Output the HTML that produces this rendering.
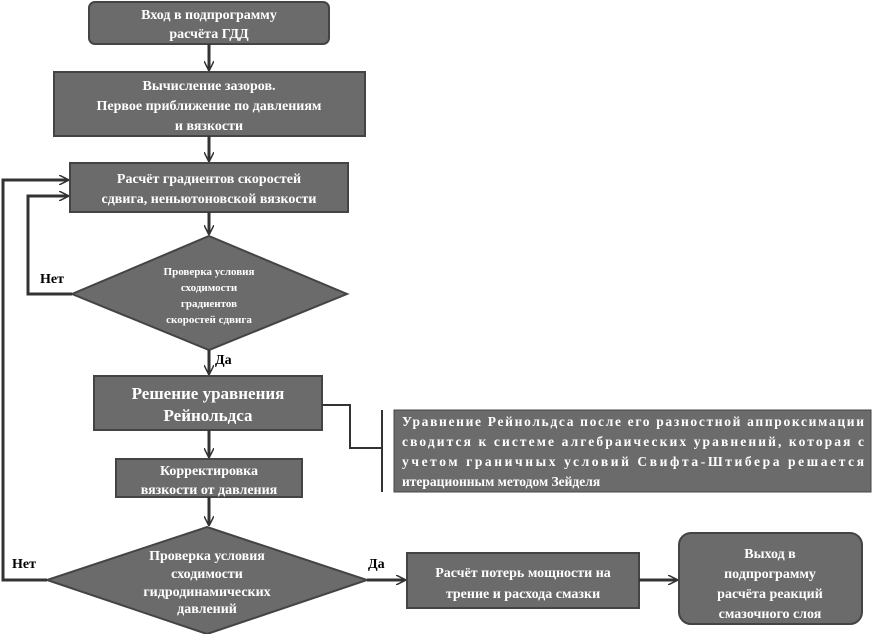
<!DOCTYPE html>
<html><head><meta charset="utf-8"><style>
body{margin:0;background:#fff;}
svg text{font-family:"Liberation Serif",serif;font-weight:bold;fill:#fff;}
</style></head><body>
<svg width="872" height="634" viewBox="0 0 872 634" xmlns="http://www.w3.org/2000/svg">
<defs><marker id="a" markerWidth="10" markerHeight="10" refX="9" refY="5" orient="auto" markerUnits="userSpaceOnUse"><path d="M0,0 L10,5 L0,10" fill="none" stroke="#333" stroke-width="1.5"/></marker></defs>
<g fill="#6b6b6b" stroke="#444" stroke-width="2">
<rect x="89" y="2" width="240" height="42" rx="6"/>
<rect x="54" y="72" width="311" height="64"/>
<rect x="70" y="163" width="278" height="49"/>
<polygon points="209,236 347,294 209,350 72,294"/>
<rect x="94" y="376" width="228" height="54"/>
<rect x="394" y="410" width="477" height="82" stroke-width="1"/>
<rect x="116" y="459" width="186" height="38"/>
<polygon points="207,527 367,580 207,634 47,580"/>
<rect x="407" y="553" width="232" height="55"/>
<rect x="679" y="533" width="183" height="91" rx="12"/>
</g>
<g stroke="#333" stroke-width="3" fill="none">
<line x1="209" y1="44" x2="209" y2="70" marker-end="url(#a)"/>
<line x1="209" y1="136" x2="209" y2="161" marker-end="url(#a)"/>
<line x1="209" y1="212" x2="209" y2="234" marker-end="url(#a)"/>
<line x1="209" y1="350" x2="209" y2="374" marker-end="url(#a)"/>
<line x1="209" y1="430" x2="209" y2="457" marker-end="url(#a)"/>
<line x1="209" y1="497" x2="209" y2="525" marker-end="url(#a)"/>
<polyline points="72,294 28,294 28,196 68,196" marker-end="url(#a)"/>
<polyline points="47,580 3,580 3,180 68,180" marker-end="url(#a)"/>
<line x1="367" y1="580" x2="405" y2="580" marker-end="url(#a)"/>
<line x1="639" y1="580" x2="677" y2="580" marker-end="url(#a)"/>
<polyline points="322,405 350,405 350,448 382,448" stroke-width="2"/>
<line x1="382" y1="410" x2="382" y2="492" stroke-width="2"/>
</g>
<g text-anchor="middle" font-size="14">
<text x="209" y="19">Вход в подпрограмму</text>
<text x="209" y="38">расчёта ГДД</text>
<text x="209" y="90">Вычисление зазоров.</text>
<text x="209" y="110">Первое приближение по давлениям</text>
<text x="209" y="130">и вязкости</text>
<text x="209" y="183">Расчёт градиентов скоростей</text>
<text x="209" y="203">сдвига, неньютоновской вязкости</text>
<text x="209" y="275" font-size="11">Проверка условия</text>
<text x="209" y="291" font-size="11">сходимости</text>
<text x="209" y="307" font-size="11">градиентов</text>
<text x="209" y="323" font-size="11">скоростей сдвига</text>
<text x="208" y="399" font-size="17">Решение уравнения</text>
<text x="208" y="421" font-size="17">Рейнольдса</text>
<text x="209" y="475">Корректировка</text>
<text x="209" y="494">вязкости от давления</text>
<text x="207" y="560" font-weight="normal">Проверка условия</text>
<text x="207" y="578" font-weight="normal">сходимости</text>
<text x="207" y="596" font-weight="normal">гидродинамических</text>
<text x="207" y="613" font-weight="normal">давлений</text>
<text x="523" y="577">Расчёт потерь мощности на</text>
<text x="523" y="598">трение и расхода смазки</text>
<text x="770" y="558">Выход в</text>
<text x="770" y="578">подпрограмму</text>
<text x="770" y="598">расчёта реакций</text>
<text x="770" y="618">смазочного слоя</text>
</g>
<g font-size="13.5">
<text x="402" y="426" textLength="462" lengthAdjust="spacing">Уравнение Рейнольдса после его разностной аппроксимации</text>
<text x="402" y="446" textLength="462" lengthAdjust="spacing">сводится к системе алгебраических уравнений, которая с</text>
<text x="402" y="466" textLength="462" lengthAdjust="spacing">учетом граничных условий Свифта-Штибера решается</text>
<text x="402" y="486">итерационным методом Зейделя</text>
</g>
<g font-size="14" style="fill:#000">
<text x="40" y="283" style="fill:#000">Нет</text>
<text x="215" y="364" style="fill:#000">Да</text>
<text x="12" y="568" style="fill:#000">Нет</text>
<text x="368" y="568" style="fill:#000">Да</text>
</g>
</svg>
</body></html>
